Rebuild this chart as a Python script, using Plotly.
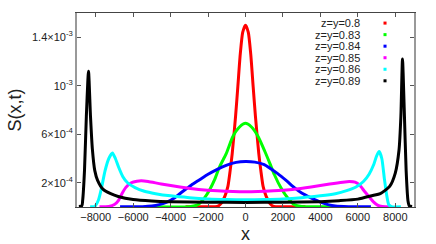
import plotly.graph_objects as go

# ---- data (x, S in units of 1e-4) ----
labels = ["z=y=0.8", "z=y=0.83", "z=y=0.84", "z=y=0.85", "z=y=0.86", "z=y=0.89"]
colors = ["#ff0000", "#00ff00", "#0000ff", "#ff00ff", "#00ffff", "#000000"]

red_x = [-3200, -2000, -1500, -1300, -1100, -940, -820, -710, -530, -410, -280, -150, 0,
         150, 280, 410, 530, 710, 820, 940, 1100, 1300, 1500, 2000, 3200]
red_y = [0.02, 0.02, 0.05, 0.3, 0.9, 1.7, 3.0, 4.4, 7.5, 9.9, 12.6, 14.4, 15.0,
         14.4, 12.6, 9.9, 7.5, 4.4, 3.0, 1.7, 0.9, 0.3, 0.05, 0.02, 0.02]

green_x = [-5000, -3000, -2600, -2450, -2190, -1920, -1650, -1390, -1030, -680, -320, 0,
           320, 680, 1030, 1300, 1545, 1900, 2255, 2610, 3000, 5000]
green_y = [0.02, 0.03, 0.15, 0.3, 0.75, 1.4, 2.25, 3.3, 4.4, 5.8, 6.6, 6.9,
           6.6, 5.8, 4.6, 3.6, 2.66, 1.56, 0.74, 0.2, 0.05, 0.02]

blue_x = [-6700, -5500, -5000, -4600, -4200, -3800, -3340, -2900, -2450, -2000, -1560, -1000, -500, 0,
          500, 1000, 1720, 2200, 2610, 3000, 3500, 4000, 4400, 4800, 5500, 6700]
blue_y = [0.02, 0.03, 0.08, 0.2, 0.4, 0.75, 1.3, 1.8, 2.25, 2.7, 3.07, 3.45, 3.68, 3.75,
          3.7, 3.5, 2.75, 2.15, 1.6, 1.15, 0.75, 0.4, 0.2, 0.08, 0.03, 0.02]

mag_x = [-7800, -7300, -7000, -6800, -6600, -6400, -6100, -5800, -5560, -5200, -4500, -3500, -2500, -1500, 0,
         1500, 2500, 3500, 4500, 5200, 5550, 5850, 6100, 6350, 6600, 6850, 7050, 7300, 7800]
mag_y = [0.02, 0.05, 0.2, 0.5, 1.1, 1.6, 2.0, 2.13, 2.16, 2.1, 1.9, 1.65, 1.45, 1.33, 1.25,
         1.33, 1.45, 1.65, 1.9, 2.05, 2.1, 2.05, 1.8, 1.3, 0.85, 0.4, 0.15, 0.04, 0.02]

cyan_x = [-8300, -8050, -7850, -7700, -7500, -7300, -7105, -6950, -6780, -6550, -6300, -5900, -5400, -4800,
          -4000, -3000, -2000, -1000, 0, 1000, 2000, 3000, 4000, 4800, 5400, 5900, 6300, 6600, 6850,
          7000, 7140, 7280, 7420, 7550, 7650, 7800, 8300]
cyan_y = [0.02, 0.05, 0.6, 1.5, 3.0, 4.0, 4.45, 4.0, 3.3, 2.5, 2.0, 1.6, 1.3, 1.1,
          0.92, 0.77, 0.67, 0.62, 0.6, 0.62, 0.67, 0.77, 0.92, 1.1, 1.35, 1.65, 2.1, 2.7, 3.5,
          4.2, 4.57, 4.0, 2.3, 0.9, 0.2, 0.03, 0.02]

black_x = [-8900, -8740, -8700, -8600, -8500, -8385, -8280, -8180, -8050, -7900, -7600, -7200, -6800,
           -6000, -5000, -4000, -2000, 0, 2000, 4000, 5000, 6000, 6800, 7200, 7700, 8000, 8200,
           8300, 8385, 8480, 8580, 8680, 8750, 8900]
black_y = [0.05, 0.1, 0.5, 3.0, 7.5, 11.2, 7.5, 4.8, 3.0, 2.2, 1.45, 1.1, 0.87,
           0.62, 0.5, 0.44, 0.39, 0.38, 0.39, 0.44, 0.52, 0.65, 0.95, 1.1, 1.7, 2.8, 4.7,
           7.5, 12.2, 8.0, 3.0, 0.5, 0.1, 0.05]

series_x = [red_x, green_x, blue_x, mag_x, cyan_x, black_x]
series_y = [red_y, green_y, blue_y, mag_y, cyan_y, black_y]

x_ticks = [-8000, -6000, -4000, -2000, 0, 2000, 4000, 6000, 8000]
y_tickvals = [2e-4, 6e-4, 1e-3, 1.4e-3]
y_ticktext = ["2×10<sup>-4</sup>", "6×10<sup>-4</sup>", "10<sup>-3</sup>", "1.4×10<sup>-3</sup>"]

FONT = "Liberation Sans, Arial, sans-serif"

fig = go.Figure()
for xs, ys, c, name in zip(series_x, series_y, colors, labels):
    fig.add_trace(go.Scatter(
        x=xs, y=[v * 1e-4 for v in ys], mode="lines", name=name,
        line=dict(color=c, width=3, shape="spline", smoothing=0.6),
        showlegend=False,
    ))

# legend drawn gnuplot-style: right-aligned text, small point symbol to its right
leg_y0 = 0.948
leg_dy = 0.0595
sx, sy = 0.0045, 0.0078
for i, (name, c) in enumerate(zip(labels, colors)):
    yy = leg_y0 - i * leg_dy
    fig.add_annotation(x=0.846, y=yy, xref="paper", yref="paper", text=name,
                       showarrow=False, xanchor="right", yanchor="middle",
                       font=dict(family=FONT, size=11, color="#222"))
    fig.add_shape(type="rect", xref="paper", yref="paper",
                  x0=0.914 - sx, x1=0.914 + sx, y0=yy - sy, y1=yy + sy,
                  fillcolor=c, line=dict(width=0))

fig.update_layout(
    width=436, height=244,
    margin=dict(l=77, r=22, t=13, b=37),
    paper_bgcolor="white", plot_bgcolor="white",
    font=dict(family=FONT, size=11, color="#222"),
)
fig.update_xaxes(
    range=[-9000, 9000], tickvals=x_ticks, ticks="inside", ticklen=4,
    tickcolor="#555", showline=True, linecolor="#444", linewidth=1, mirror="allticks",
    showgrid=False, zeroline=False, tickfont=dict(size=11), automargin=False,
    title=dict(text="x", font=dict(size=18), standoff=5),
)
fig.update_yaxes(
    range=[0, 1.6e-3], tickvals=y_tickvals, ticktext=y_ticktext, ticks="inside", ticklen=4,
    tickcolor="#555", showline=True, linecolor="#999", linewidth=2, mirror="allticks",
    showgrid=False, zeroline=False, tickfont=dict(size=11), automargin=False,
    title=dict(text="S(x,t)", font=dict(size=18), standoff=6),
)

fig.write_html("out.html", config={"displayModeBar": False},
               post_script="document.body.style.margin='0';document.body.style.overflow='hidden';")
